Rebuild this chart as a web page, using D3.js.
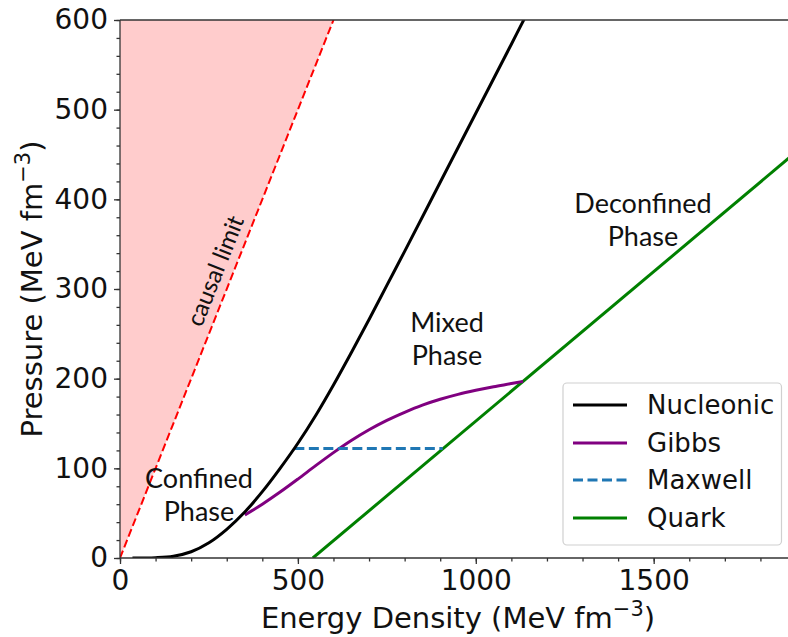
<!DOCTYPE html>
<html>
<head>
<meta charset="utf-8">
<script src="https://cdn.jsdelivr.net/npm/d3@7"></script>
<style>
  html, body { margin: 0; padding: 0; background: #fff; overflow: hidden; }
  svg { display: block; }
  .tick text { font-family: "DejaVu Sans", sans-serif; }
</style>
</head>
<body>
<svg id="chart" width="788" height="637"></svg>
<script>
// Equation-of-state curves: pressure vs energy density (MeV fm^-3)
const nucleonicEps = [35, 100, 150, 200, 250, 300, 350, 400, 450, 500, 550, 600, 650, 700, 750, 800, 900, 1000, 1100, 1145];
const nucleonicP   = [0, 0.4, 2, 7, 17, 32, 51, 74, 100, 128, 159, 193, 229, 266, 304, 342, 419, 496, 573, 608];

const gibbsEps = [351, 400, 450, 500, 550, 600, 650, 700, 750, 800, 850, 900, 950, 1000, 1050, 1100, 1133];
const gibbsP   = [48, 60, 73.5, 88, 103, 117.5, 131, 143, 153.5, 162.5, 170.5, 177, 182.5, 187, 191, 194.5, 197];

const maxwellEps = [490, 907];
const maxwellP   = [122, 122];

const quarkEps = [542, 1900];
const quarkP   = [0, 452.7];

const causalEps = [0, 600];
const causalP   = [0, 600];

const xTicks = [0, 500, 1000, 1500];
const yTicks = [0, 100, 200, 300, 400, 500, 600];

const legendNames  = ["Nucleonic", "Gibbs", "Maxwell", "Quark"];
const legendColors = ["#000000", "#800080", "#1f77b4", "#008000"];
const legendDash   = [null, null, "10,4.5", null];

(function () {
const svg = d3.select("#chart");
const mLeft = 120, mRight = 796, mTop = 20, mBottom = 558;

const x = d3.scaleLinear().domain([0, 1900]).range([mLeft, mRight]);
const y = d3.scaleLinear().domain([0, 600]).range([mBottom, mTop]);

svg.append("defs").append("clipPath").attr("id", "plotClip")
  .append("rect").attr("x", mLeft).attr("y", mTop).attr("width", mRight - mLeft).attr("height", mBottom - mTop);

const plot = svg.append("g").attr("clip-path", "url(#plotClip)");

const zip = (a, b) => a.map((v, i) => [v, b[i]]);
const line = d3.line().x(d => x(d[0])).y(d => y(d[1]));
const smooth = d3.line().x(d => x(d[0])).y(d => y(d[1])).curve(d3.curveCatmullRom.alpha(0.5));

// acausal region above p = epsilon
const causal = zip(causalEps, causalP);
plot.append("path")
  .datum(causal)
  .attr("d", d3.area().x(d => x(d[0])).y0(y(600)).y1(d => y(d[1])))
  .attr("fill", "rgba(255,0,0,0.2)");
plot.append("path")
  .datum(causal)
  .attr("d", line)
  .attr("fill", "none").attr("stroke", "#ff0000").attr("stroke-width", 2)
  .attr("stroke-dasharray", "8,3.5");

plot.append("path").datum(zip(quarkEps, quarkP)).attr("d", line)
  .attr("fill", "none").attr("stroke", legendColors[3]).attr("stroke-width", 3);

plot.append("path").datum(zip(gibbsEps, gibbsP)).attr("d", smooth)
  .attr("fill", "none").attr("stroke", legendColors[1]).attr("stroke-width", 3);

plot.append("path").datum(zip(maxwellEps, maxwellP)).attr("d", line)
  .attr("fill", "none").attr("stroke", legendColors[2]).attr("stroke-width", 3)
  .attr("stroke-dasharray", legendDash[2]);

plot.append("path").datum(zip(nucleonicEps, nucleonicP)).attr("d", smooth)
  .attr("fill", "none").attr("stroke", legendColors[0]).attr("stroke-width", 3);

// axes
const axisColor = "#333";
function styleAxis(g) {
  g.select(".domain").remove();
  g.selectAll(".tick line").attr("stroke", axisColor).attr("stroke-width", 1.3);
  g.selectAll(".tick text").attr("fill", "#111").attr("font-size", 28);
}

svg.append("g").attr("transform", `translate(0,${mBottom})`)
  .call(d3.axisBottom(x).tickValues(d3.range(0, 1900, 100)).tickSize(3.5).tickFormat(""))
  .call(styleAxis);
svg.append("g").attr("transform", `translate(0,${mBottom})`)
  .call(d3.axisBottom(x).tickValues(xTicks).tickSize(6).tickPadding(6).tickFormat(d3.format("d")))
  .call(styleAxis);

svg.append("g").attr("transform", `translate(${mLeft},0)`)
  .call(d3.axisLeft(y).tickValues(d3.range(0, 601, 20)).tickSize(3.5).tickFormat(""))
  .call(styleAxis);
svg.append("g").attr("transform", `translate(${mLeft},0)`)
  .call(d3.axisLeft(y).tickValues(yTicks).tickSize(6).tickPadding(6).tickFormat(d3.format("d")))
  .call(styleAxis);

// spines
const spine = svg.append("g").attr("stroke", axisColor).attr("stroke-width", 1.3).attr("fill", "none");
spine.append("line").attr("x1", mLeft).attr("x2", mLeft).attr("y1", mTop).attr("y2", mBottom);
spine.append("line").attr("x1", mLeft).attr("x2", mRight).attr("y1", mBottom).attr("y2", mBottom);
spine.append("line").attr("x1", mLeft).attr("x2", mRight).attr("y1", mTop).attr("y2", mTop);
spine.append("line").attr("x1", mRight).attr("x2", mRight).attr("y1", mTop).attr("y2", mBottom);

// axis titles
const xt = svg.append("text")
  .attr("x", (mLeft + mRight) / 2).attr("y", 628)
  .attr("text-anchor", "middle")
  .attr("font-family", "DejaVu Sans, sans-serif").attr("font-size", 29).attr("fill", "#111");
xt.append("tspan").text("Energy Density (MeV fm");
xt.append("tspan").attr("dy", -12).attr("font-size", 21).text("\u22123");
xt.append("tspan").attr("dy", 12).text(")");

const yt = svg.append("text")
  .attr("transform", `translate(42,${(mTop + mBottom) / 2}) rotate(-90)`)
  .attr("text-anchor", "middle")
  .attr("font-family", "DejaVu Sans, sans-serif").attr("font-size", 29).attr("fill", "#111");
yt.append("tspan").text("Pressure (MeV fm");
yt.append("tspan").attr("dy", -12).attr("font-size", 21).text("\u22123");
yt.append("tspan").attr("dy", 12).text(")");

// phase annotations
const annFont = "Lato, sans-serif";
function note(lines, cx, baselines) {
  lines.forEach((t, i) => {
    svg.append("text").attr("x", cx).attr("y", baselines[i])
      .attr("text-anchor", "middle").attr("font-family", annFont)
      .attr("font-size", 27).attr("fill", "#111").text(t);
  });
}
note(["Confined", "Phase"], 199, [488, 521]);
note(["Mixed", "Phase"], 447, [332, 365]);
note(["Deconfined", "Phase"], 643, [213, 246]);

// causal limit label along the dashed line
const angle = Math.atan2(y(0) - y(1), x(1) - x(0)) * 180 / Math.PI;
svg.append("text")
  .attr("transform", `translate(223,274) rotate(${-angle})`)
  .attr("text-anchor", "middle").attr("font-family", annFont)
  .attr("font-size", 24).attr("fill", "#111").text("causal limit");

// legend
const lg = svg.append("g");
lg.append("rect").attr("x", 563).attr("y", 383).attr("width", 218.5).attr("height", 162)
  .attr("rx", 4).attr("fill", "rgba(255,255,255,0.85)").attr("stroke", "#d0d0d0").attr("stroke-width", 1.2);
const rowY = [405, 443, 480, 518];
legendNames.forEach((name, i) => {
  lg.append("line").attr("x1", 573).attr("x2", 627).attr("y1", rowY[i]).attr("y2", rowY[i])
    .attr("stroke", legendColors[i]).attr("stroke-width", 3)
    .attr("stroke-dasharray", legendDash[i]);
  lg.append("text").attr("x", 647).attr("y", rowY[i]).attr("dy", "0.35em")
    .attr("font-family", "DejaVu Sans, sans-serif").attr("font-size", 26).attr("fill", "#111")
    .text(name);
});
})();
</script>
</body>
</html>
